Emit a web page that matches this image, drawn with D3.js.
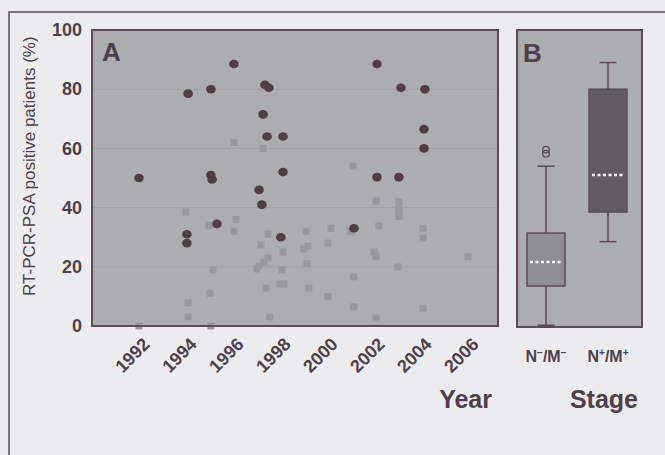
<!DOCTYPE html>
<head>
  <meta charset="utf-8">
  <title>RT-PCR-PSA positive patients</title>
  <style>
    body {
      margin: 0;
      padding: 0;
      background-color: #ececee;
      font-family: 'Liberation Sans', Arial, sans-serif;
    }
    text {
      fill: #4d4048;
    }
    .tick text {
      font-weight: bold;
    }
  </style>
</head>
<body>
  <div id='vis'></div>

  <script src="https://cdn.jsdelivr.net/npm/d3@7"></script>
  <script>
    // panel A: dark circles (N+/M+) and light squares (N-/M-), year vs % positive
    var circleYear = [1992.00, 1994.09, 1995.06, 1996.04, 1995.06, 1995.11, 1994.04, 1994.04, 1995.32,
                      1997.36, 1997.53, 1997.28, 1997.45, 1998.13, 1998.13, 1997.11, 1997.23, 1998.04,
                      2001.15, 2002.13, 2002.13, 2003.15, 2003.06, 2004.17, 2004.13, 2004.13];
    var circleValue = [50, 78.5, 80, 88.5, 51, 49.5, 31, 28, 34.5,
                       81.5, 80.5, 71.5, 64, 64, 52, 46, 41, 30,
                       33, 88.5, 50.3, 80.5, 50.3, 80, 66.5, 60];

    var squareYear = [1996.04, 1997.28, 2001.11,
                      1992.00, 1994.00, 1994.09, 1994.09, 1994.98, 1995.15, 1995.02, 1995.06, 1996.13, 1996.04,
                      1997.49, 1997.19, 1997.49, 1997.32, 1997.11, 1997.02, 1997.40, 1997.57,
                      1998.13, 1998.09, 1998.00, 1998.17,
                      1999.11, 1999.19, 1999.02, 1999.15, 1999.23,
                      2000.17, 2000.04, 2000.04,
                      2001.02, 2001.15, 2001.15,
                      2002.09, 2002.21, 2002.00, 2002.09, 2002.09,
                      2003.06, 2003.06, 2003.06, 2003.06, 2003.02,
                      2004.09, 2004.09, 2004.09,
                      2006.00];
    var squareValue = [62, 60, 54,
                       0, 38.5, 7.8, 3, 34, 19, 11, 0, 36, 32,
                       31, 27.4, 23, 21.6, 20.3, 19.3, 12.8, 3,
                       25, 19, 14.2, 14.2,
                       32, 27, 26, 21, 12.8,
                       33, 28, 9.9,
                       32, 16.6, 6.5,
                       42.2, 33.8, 25, 23.6, 2.7,
                       42, 40, 38.5, 37, 20,
                       33, 29.7, 6,
                       23.4];

    var yearTicks = [1992, 1994, 1996, 1998, 2000, 2002, 2004, 2006];
    var valueTicks = [0, 20, 40, 60, 80, 100];

    // panel B: box plot summary per stage
    var stages = ['neg', 'pos'];
    var boxMin = [0, 28.5];
    var boxQ1 = [13.5, 38.5];
    var boxMedian = [21.6, 51];
    var boxQ3 = [31.4, 80];
    var boxMax = [54, 89];
    var outlierStage = ['neg', 'neg'];
    var outlierValue = [58.2, 59.6];

    var winWidth = 665,
        winHeight = 455;

    var svg = d3.select("#vis").append("svg")
      .attr("width", winWidth)
      .attr("height", winHeight);

    svg.append("rect")
      .attr("width", winWidth)
      .attr("height", winHeight)
      .attr("fill", "#ececee");

    // outer figure frame (top + left only visible)
    svg.append("path")
      .attr("d", "M9," + winHeight + "V12H" + winWidth)
      .attr("fill", "none")
      .attr("stroke", "#5b4b55")
      .attr("stroke-width", 1.5);

    var x = d3.scaleLinear().domain([1990, 2007.28]).range([92, 498]);
    var y = d3.scaleLinear().domain([0, 100]).range([326, 30]);
    var xB = d3.scalePoint().domain(stages).range([546, 608]);

    // ---- panel A ----
    svg.append("rect")
      .attr("x", x(1990)).attr("y", y(100))
      .attr("width", x(2007.28) - x(1990)).attr("height", y(0) - y(100))
      .attr("fill", "#abadaf");

    svg.append("g")
      .selectAll("line")
      .data([20, 40, 60, 80])
      .enter().append("line")
        .attr("x1", x(1990)).attr("x2", x(2007.28))
        .attr("y1", function(d) { return y(d); })
        .attr("y2", function(d) { return y(d); })
        .attr("stroke", "#9ea0a3")
        .attr("stroke-width", 1);

    var sq = 7;
    svg.append("g")
      .selectAll("rect")
      .data(squareYear)
      .enter().append("rect")
        .attr("x", function(d) { return x(d) - sq / 2; })
        .attr("y", function(d, i) { return y(squareValue[i]) - sq / 2; })
        .attr("width", sq)
        .attr("height", sq)
        .attr("fill", "#97999b");

    svg.append("g")
      .selectAll("ellipse")
      .data(circleYear)
      .enter().append("ellipse")
        .attr("cx", function(d) { return x(d); })
        .attr("cy", function(d, i) { return y(circleValue[i]); })
        .attr("rx", 4.8)
        .attr("ry", 4.3)
        .attr("fill", "#503e44");

    svg.append("rect")
      .attr("x", x(1990)).attr("y", y(100))
      .attr("width", x(2007.28) - x(1990)).attr("height", y(0) - y(100))
      .attr("fill", "none")
      .attr("stroke", "#5b4b55")
      .attr("stroke-width", 2);

    svg.append("text")
      .attr("x", 102).attr("y", 61)
      .style("font-size", "26px")
      .style("font-weight", "bold")
      .text("A");

    var yAxis = svg.append("g")
      .attr("transform", "translate(" + x(1990) + ",0)")
      .call(d3.axisLeft(y).tickValues(valueTicks).tickSize(0).tickPadding(10));
    yAxis.select(".domain").remove();
    yAxis.selectAll("text")
      .style("font-size", "18px")
      .style("font-family", "'Liberation Sans', Arial, sans-serif")
      .attr("fill", "#4d4048");

    var xAxis = svg.append("g")
      .attr("transform", "translate(0," + y(0) + ")")
      .call(d3.axisBottom(x).tickValues(yearTicks).tickSize(0).tickFormat(d3.format("d")));
    xAxis.select(".domain").remove();
    xAxis.selectAll("text")
      .attr("y", 0).attr("dy", "0.35em")
      .attr("transform", "translate(7,15) rotate(-45)")
      .attr("text-anchor", "end")
      .style("font-size", "18px")
      .style("font-family", "'Liberation Sans', Arial, sans-serif")
      .attr("fill", "#4d4048");

    svg.append("text")
      .attr("transform", "translate(35," + y(54) + ") rotate(-90)")
      .attr("text-anchor", "middle")
      .style("font-size", "17px")
      .text("RT-PCR-PSA positive patients (%)");

    svg.append("text")
      .attr("x", 492).attr("y", 408)
      .attr("text-anchor", "end")
      .style("font-size", "25px")
      .style("font-weight", "bold")
      .text("Year");

    // ---- panel B ----
    svg.append("rect")
      .attr("x", 517).attr("y", y(100))
      .attr("width", 125).attr("height", y(0) - y(100) + 1)
      .attr("fill", "#abadaf")
      .attr("stroke", "#5b4b55")
      .attr("stroke-width", 2);

    var boxW = 38, capW = 17;
    var boxFill = ['#8f8f92', '#625c61'];

    var box = svg.append("g")
      .selectAll("g")
      .data(stages)
      .enter().append("g");

    box.append("line")
      .attr("x1", function(d) { return xB(d); })
      .attr("x2", function(d) { return xB(d); })
      .attr("y1", function(d, i) { return y(boxMin[i]); })
      .attr("y2", function(d, i) { return y(boxMax[i]); })
      .attr("stroke", "#5b4b55")
      .attr("stroke-width", 1.5);

    box.append("line")
      .attr("x1", function(d) { return xB(d) - capW / 2; })
      .attr("x2", function(d) { return xB(d) + capW / 2; })
      .attr("y1", function(d, i) { return y(boxMax[i]); })
      .attr("y2", function(d, i) { return y(boxMax[i]); })
      .attr("stroke", "#5b4b55")
      .attr("stroke-width", 1.5);

    box.append("line")
      .attr("x1", function(d) { return xB(d) - capW / 2; })
      .attr("x2", function(d) { return xB(d) + capW / 2; })
      .attr("y1", function(d, i) { return y(boxMin[i]); })
      .attr("y2", function(d, i) { return y(boxMin[i]); })
      .attr("stroke", "#5b4b55")
      .attr("stroke-width", function(d, i) { return boxMin[i] == 0 ? 3 : 1.5; });

    box.append("rect")
      .attr("x", function(d) { return xB(d) - boxW / 2; })
      .attr("y", function(d, i) { return y(boxQ3[i]); })
      .attr("width", boxW)
      .attr("height", function(d, i) { return y(boxQ1[i]) - y(boxQ3[i]); })
      .attr("fill", function(d, i) { return boxFill[i]; })
      .attr("stroke", "#5b4b55")
      .attr("stroke-width", 1.5);

    box.append("line")
      .attr("x1", function(d) { return xB(d) - boxW / 2 + 3; })
      .attr("x2", function(d) { return xB(d) + boxW / 2 - 3; })
      .attr("y1", function(d, i) { return y(boxMedian[i]); })
      .attr("y2", function(d, i) { return y(boxMedian[i]); })
      .attr("stroke", "#ffffff")
      .attr("stroke-width", 2.5)
      .attr("stroke-dasharray", "3,2.5");

    svg.append("g")
      .selectAll("circle")
      .data(outlierValue)
      .enter().append("circle")
        .attr("cx", function(d, i) { return xB(outlierStage[i]); })
        .attr("cy", function(d) { return y(d); })
        .attr("r", 3.3)
        .attr("fill", "none")
        .attr("stroke", "#5b4b55")
        .attr("stroke-width", 1.3);

    svg.append("text")
      .attr("x", 523).attr("y", 62)
      .style("font-size", "26px")
      .style("font-weight", "bold")
      .text("B");

    var signs = ['\u2212', '+'];
    var stageLabel = svg.append("g")
      .selectAll("text")
      .data(stages)
      .enter().append("text")
        .attr("x", function(d) { return xB(d); })
        .attr("y", 362)
        .attr("text-anchor", "middle")
        .style("font-size", "16px")
        .style("font-weight", "bold");

    stageLabel.each(function(d, i) {
      var t = d3.select(this);
      t.append("tspan").text("N");
      t.append("tspan").attr("dy", -6).style("font-size", "10px").text(signs[i]);
      t.append("tspan").attr("dy", 6).text("/M");
      t.append("tspan").attr("dy", -6).style("font-size", "10px").text(signs[i]);
    });

    svg.append("text")
      .attr("x", 638).attr("y", 408)
      .attr("text-anchor", "end")
      .style("font-size", "25px")
      .style("font-weight", "bold")
      .text("Stage");
  </script>
</body>
